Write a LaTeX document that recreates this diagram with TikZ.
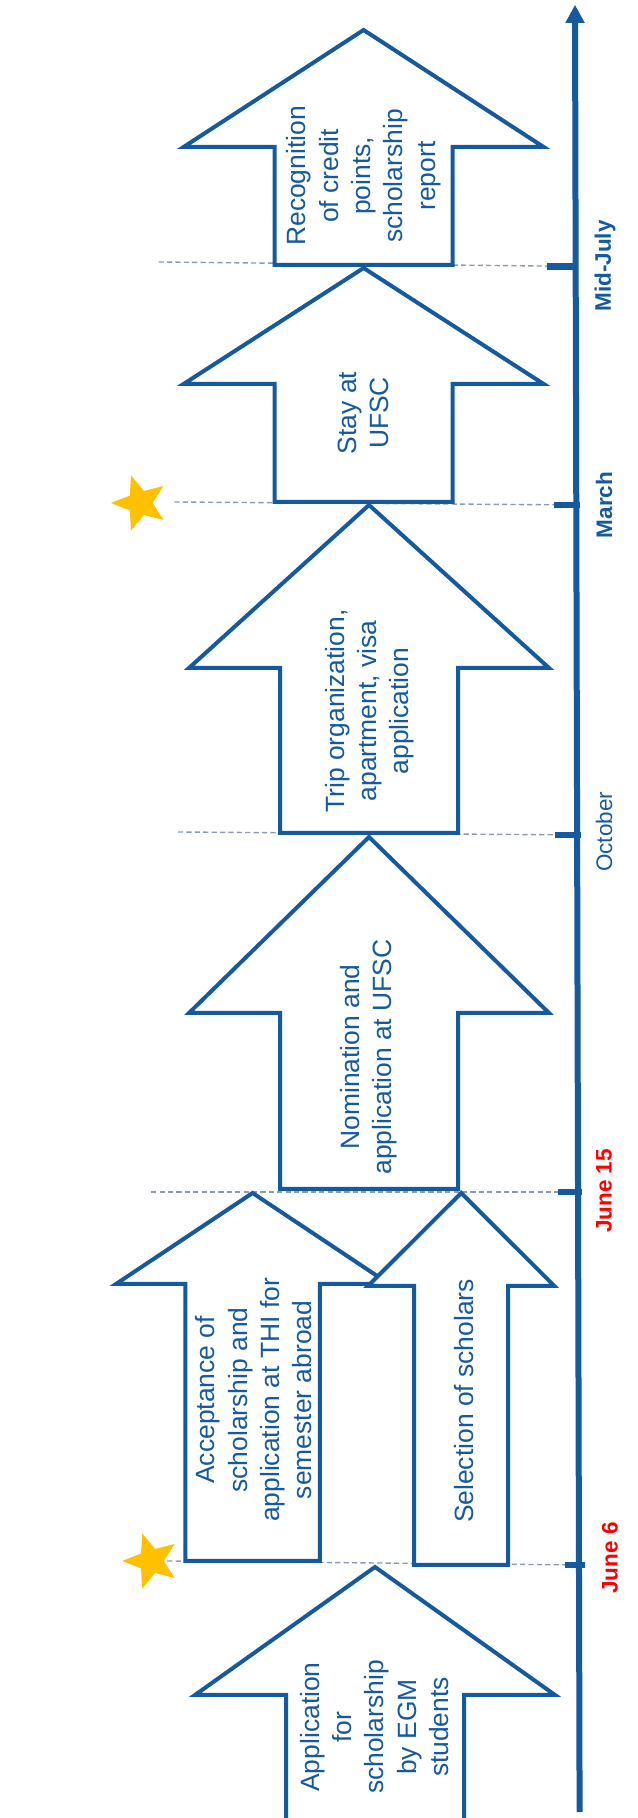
\documentclass[tikz,border=0pt]{standalone}
\usepackage{fontspec}
\setmainfont{Liberation Sans}
\usepackage{tikz}
\usetikzlibrary{calc,arrows.meta,shapes.geometric}
\definecolor{egmblue}{HTML}{15599E}
\definecolor{egmdash}{HTML}{8A9BB5}
\definecolor{egmstar}{HTML}{FFC000}
\def\timearrow[#1](#2,#3)(#4:#5:#6:#7){\draw[#1] (#2,#3) -- ({#2+#4},#6) -- ({#2+#5},#6) -- ({#2+#5},#7) -- ({#2-#5},#7) -- ({#2-#5},#6) -- ({#2-#4},#6) -- cycle;}

\begin{document}
\begin{tikzpicture}[
		stage/.style={draw=egmblue, line width=1mm, fill=white, line join=miter},
		steptext/.style={text=egmblue, font=\fontsize{18.8}{23}\selectfont, align=center, rotate=90},
		datelabel/.style={text=egmblue, font=\fontsize{16}{19}\selectfont\bfseries, rotate=90},
		guide/.style={draw=egmdash, line width=0.35mm, dash pattern=on 1.3mm off 0.8mm},
		tick/.style={draw=egmblue, line width=1.6mm},
		award/.style={star, star points=5, star point ratio=2.3, fill=egmstar, minimum size=1.45cm, inner sep=0, rotate=90}
	]
		%%%%% START %%%%%
		\useasboundingbox (0, 0) rectangle (15.925, 45.45);
		
		% time axis
		\draw[egmblue, line width=1.5mm, -{Triangle[length=4.5mm, width=4.5mm]}] (14.49, 0.15) -- (14.375, 45.33);
		
		% date marks
		\coordinate (tJul) at (14.44, 38.79);
		\coordinate (tMar) at (14.5, 32.825);
		\coordinate (tOct) at (14.52, 24.575);
		\coordinate (tJun15) at (14.56, 15.65);
		\coordinate (tJun6) at (14.62, 6.325);
		\coordinate (gJul) at (3.965, 38.9);
		\coordinate (gMar) at (4.36, 32.9);
		\coordinate (gOct) at (4.45, 24.65);
		\coordinate (gJun15) at (3.78, 15.65);
		\coordinate (gJun6) at (4.18, 6.425);
		
		\draw[guide] (gJul) -- (tJul);
		\draw[guide] (gMar) -- (tMar);
		\draw[guide] (gOct) -- (tOct);
		\draw[guide] (gJun15) -- (tJun15);
		\draw[guide] (gJun6) -- (tJun6);
		
		\draw[tick] (13.675, 38.79) -- (tJul);
		\draw[tick] (13.85, 32.825) -- (tMar);
		\draw[tick] (13.875, 24.575) -- (tOct);
		\draw[tick] (13.94, 15.65) -- (tJun15);
		\draw[tick] (14.12, 6.325) -- (tJun6);
		
		\node[datelabel] (midjuly) at (15.125, 38.8) {Mid-July};
		\node[datelabel] (march) at (15.1, 32.825) {March};
		\node[datelabel, font=\fontsize{16}{19}\selectfont] (october) at (15.1, 24.65) {October};
		\node[datelabel, text=red] (june15) at (15.1, 15.675) {June 15};
		\node[datelabel, text=red] (june6) at (15.25, 6.5) {June 6};
		
		% stages
		\draw[stage] (7.15, -0.2) -- (7.15, 3.075) -- (4.875, 3.075) -- (9.375, 6.275) -- (13.875, 3.075) -- (11.6, 3.075) -- (11.6, -0.2);
		\timearrow[stage](6.315, 15.625)(3.415:1.68:13.35:6.425)
		\timearrow[stage](11.53, 15.625)(2.33:1.175:13.3:6.325)
		\timearrow[stage](9.225, 24.525)(4.5:2.225:20.125:15.725)
		\timearrow[stage](9.225, 32.825)(4.5:2.225:28.75:24.625)
		\timearrow[stage](9.09, 38.75)(4.5:2.225:35.85:32.9)
		\timearrow[stage](9.09, 44.7)(4.5:2.225:41.775:38.825)
		
		\node[steptext] (apply) at (9.36, 2.275) {Application\\for\\scholarship\\by EGM\\students};
		\node[steptext] (accept) at (6.345, 10.45) {Acceptance of\\scholarship and\\application at THI for\\semester abroad};
		\node[steptext] (select) at (11.59, 10.425) {Selection of scholars};
		\node[steptext] (nominate) at (9.21, 19.025) {Nomination and\\application at UFSC};
		\node[steptext] (trip) at (9.24, 27.675) {Trip organization,\\apartment, visa\\application};
		\node[steptext] (stay) at (9.09, 35.125) {Stay at\\UFSC};
		\node[steptext] (recog) at (9.09, 41.05) {Recognition\\of credit\\points,\\scholarship\\report};
		
		% stars
		\node[award] (star1) at (3.5, 32.875) {};
		\node[award] (star2) at (3.78, 6.425) {};
		%%%%% END %%%%%
	\end{tikzpicture}
\end{document}
